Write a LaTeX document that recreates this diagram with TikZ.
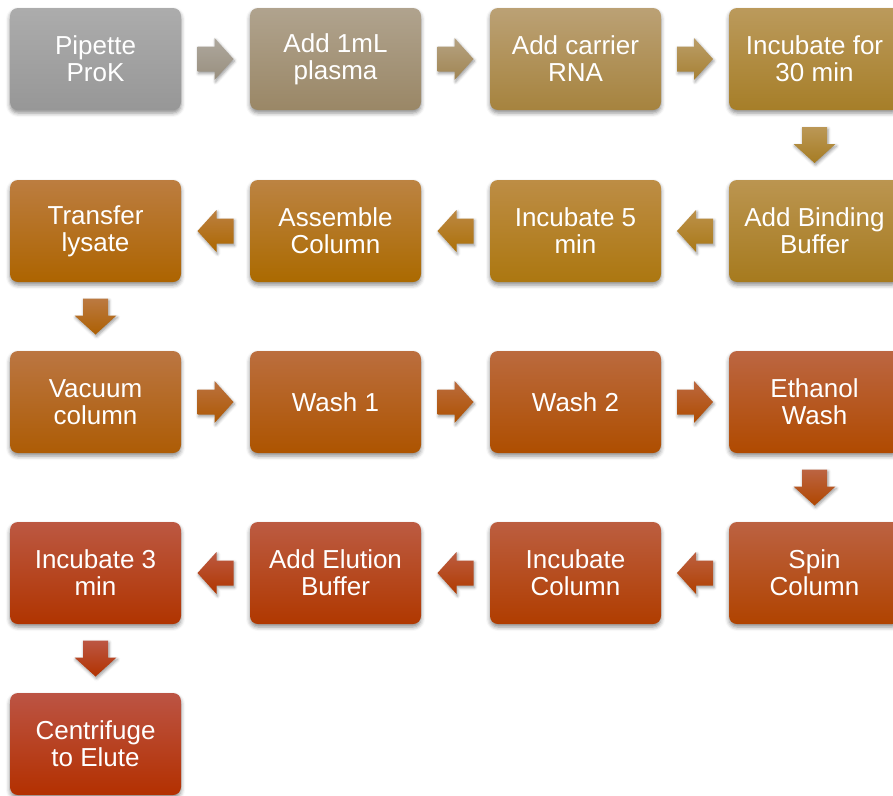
\documentclass[tikz,border=0pt]{standalone}
\usepackage{fontspec}
\setmainfont{Liberation Sans}
\usetikzlibrary{calc,shadows.blur}
\definecolor{t1}{HTML}{ACACAC}\definecolor{b1}{HTML}{979797}
\definecolor{t2}{HTML}{B0A38E}\definecolor{b2}{HTML}{9A8766}
\definecolor{t3}{HTML}{BBA175}\definecolor{b3}{HTML}{A6833E}
\definecolor{t4}{HTML}{BB9A5C}\definecolor{b4}{HTML}{A67E28}
\definecolor{t5}{HTML}{BB9550}\definecolor{b5}{HTML}{A67A1E}
\definecolor{t6}{HTML}{BD8D45}\definecolor{b6}{HTML}{AC7710}
\definecolor{t7}{HTML}{BC8342}\definecolor{b7}{HTML}{AB6A00}
\definecolor{t8}{HTML}{BC7D40}\definecolor{b8}{HTML}{AD6400}
\definecolor{t9}{HTML}{BB7642}\definecolor{b9}{HTML}{AD5C05}
\definecolor{t10}{HTML}{BB6E3E}\definecolor{b10}{HTML}{AD5400}
\definecolor{t11}{HTML}{BB6A3E}\definecolor{b11}{HTML}{AE4E00}
\definecolor{t12}{HTML}{BC6642}\definecolor{b12}{HTML}{B04A00}
\definecolor{t13}{HTML}{BC6242}\definecolor{b13}{HTML}{B04300}
\definecolor{t14}{HTML}{BC5E40}\definecolor{b14}{HTML}{B03D00}
\definecolor{t15}{HTML}{BC5B42}\definecolor{b15}{HTML}{B03800}
\definecolor{t16}{HTML}{BC5842}\definecolor{b16}{HTML}{B03400}
\definecolor{t17}{HTML}{BC5444}\definecolor{b17}{HTML}{B33000}
\tikzset{
  stepbox/.style={rounded corners=8pt, minimum width=171pt, minimum height=102pt,
    inner sep=0pt, align=center, text=white, font=\fontsize{26}{27}\selectfont,
    top color=t#1, bottom color=b#1,
    blur shadow={shadow xshift=0pt, shadow yshift=-3pt, shadow blur radius=4pt, shadow opacity=45}},
  blockarrow/.style={top color=t#1!50!t\the\numexpr#1+1\relax, bottom color=b#1!50!b\the\numexpr#1+1\relax,
    blur shadow={shadow xshift=1pt, shadow yshift=-2pt, shadow blur radius=3pt, shadow opacity=40}}
}
\newcommand\rarr[3]{\path[blockarrow=#3, shift={($(#1.east)!0.5!(#2.west)$)}]
  (-18,-12.5) -- (-1,-12.5) -- (-1,-21) -- (18,0) -- (-1,21) -- (-1,12.5) -- (-18,12.5) -- cycle;}
\newcommand\larr[3]{\path[blockarrow=#3, shift={($(#1.west)!0.5!(#2.east)$)}]
  (18,-12.5) -- (1,-12.5) -- (1,-21) -- (-18,0) -- (1,21) -- (1,12.5) -- (18,12.5) -- cycle;}
\newcommand\darr[3]{\path[blockarrow=#3, shift={($(#1.south)!0.5!(#2.north)$)}]
  (-12.5,-18) -- (-12.5,-1) -- (-21,-1) -- (0,18) -- (21,-1) -- (12.5,-1) -- (12.5,-18) -- cycle;}
\begin{document}
\begin{tikzpicture}[x=1pt,y=-1pt]
\useasboundingbox (0,0) rectangle (893,795);
% row 1
\node[stepbox=1] (n1) at (95.5,59) {Pipette\\ProK};
\node[stepbox=2] (n2) at (335.5,59) {Add 1mL\\plasma};
\node[stepbox=3] (n3) at (575.5,59) {Add carrier\\RNA};
\node[stepbox=4] (n4) at (814.5,59) {Incubate for\\30 min};
% row 2
\node[stepbox=5] (n5) at (814.5,231) {Add Binding\\Buffer};
\node[stepbox=6] (n6) at (575.5,231) {Incubate 5\\min};
\node[stepbox=7] (n7) at (335.5,231) {Assemble\\Column};
\node[stepbox=8] (n8) at (95.5,231) {Transfer\\lysate};
% row 3
\node[stepbox=9] (n9) at (95.5,402) {Vacuum\\column};
\node[stepbox=10] (n10) at (335.5,402) {Wash 1};
\node[stepbox=11] (n11) at (575.5,402) {Wash 2};
\node[stepbox=12] (n12) at (814.5,402) {Ethanol\\Wash};
% row 4
\node[stepbox=13] (n13) at (814.5,573) {Spin\\Column};
\node[stepbox=14] (n14) at (575.5,573) {Incubate\\Column};
\node[stepbox=15] (n15) at (335.5,573) {Add Elution\\Buffer};
\node[stepbox=16] (n16) at (95.5,573) {Incubate 3\\min};
% row 5
\node[stepbox=17] (n17) at (95.5,744) {Centrifuge\\to Elute};
% arrows
\rarr{n1}{n2}{1}
\rarr{n2}{n3}{2}
\rarr{n3}{n4}{3}
\darr{n4}{n5}{4}
\larr{n5}{n6}{5}
\larr{n6}{n7}{6}
\larr{n7}{n8}{7}
\darr{n8}{n9}{8}
\rarr{n9}{n10}{9}
\rarr{n10}{n11}{10}
\rarr{n11}{n12}{11}
\darr{n12}{n13}{12}
\larr{n13}{n14}{13}
\larr{n14}{n15}{14}
\larr{n15}{n16}{15}
\darr{n16}{n17}{16}
\end{tikzpicture}
\end{document}
